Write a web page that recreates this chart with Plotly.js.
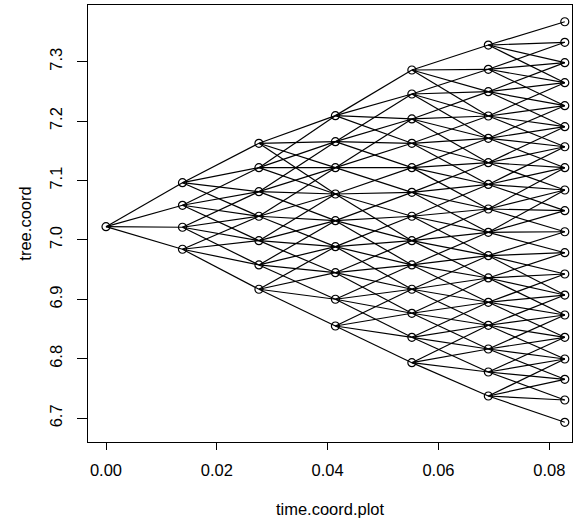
<!DOCTYPE html>
<html>
<head>
<meta charset="utf-8">
<script src="https://cdn.plot.ly/plotly-3.0.1.min.js"></script>
<style>html,body{margin:0;padding:0;background:#fff;}#plot{width:581px;height:526px;}</style>
</head>
<body>
<div id="plot"></div>
<script>
// time coordinate of each tree level
const timeCoord = [0, 0.0138, 0.0276, 0.0414, 0.0552, 0.0690, 0.0828];

// node values (tree.coord) per level
const level0 = [7.0224];
const level1 = [7.0964, 7.0584, 7.0214, 6.9844];
const level2 = [7.1627, 7.1217, 7.0813, 7.0399, 6.9989, 6.9580, 6.9171];
const level3 = [7.2092, 7.1654, 7.1217, 7.0774, 7.0325, 6.9888, 6.9450, 6.9003, 6.8553];
const level4 = [7.2860, 7.2456, 7.2036, 7.1627, 7.1217, 7.0802, 7.0399, 6.9989, 6.9580,
                6.9171, 6.8767, 6.8363, 6.7936];
const level5 = [7.3280, 7.2872, 7.2495, 7.2086, 7.1711, 7.1300, 7.0934, 7.0521, 7.0129,
                6.9736, 6.9361, 6.8952, 6.8565, 6.8166, 6.7779, 6.7375];
const level6 = [7.3672, 7.3326, 7.2983, 7.2646, 7.2259, 7.1906, 7.1569, 7.1216, 7.0841,
                7.0493, 7.0139, 6.9786, 6.9428, 6.9074, 6.8738, 6.8363, 6.7998, 6.7656,
                6.7308, 6.6933];

// index of the first of the four children of each node in the next level
const childStart0 = [0];
const childStart1 = [0, 1, 2, 3];
const childStart2 = [0, 0, 1, 2, 3, 4, 5];
const childStart3 = [0, 1, 2, 4, 5, 6, 7, 8, 9];
const childStart4 = [0, 1, 2, 3, 4, 5, 6, 7, 8, 9, 10, 11, 12];
const childStart5 = [0, 1, 2, 3, 4, 5, 6, 7, 8, 10, 11, 12, 13, 14, 15, 16];
const branchCount = 4;

const levels = [level0, level1, level2, level3, level4, level5, level6];
const childStarts = [childStart0, childStart1, childStart2, childStart3, childStart4, childStart5];

const lx = [], ly = [];
for (let k = 0; k < childStarts.length; k++) {
  const cur = levels[k], nxt = levels[k + 1], st = childStarts[k];
  for (let i = 0; i < cur.length; i++) {
    for (let c = 0; c < branchCount; c++) {
      lx.push(timeCoord[k], timeCoord[k + 1], null);
      ly.push(cur[i], nxt[st[i] + c], null);
    }
  }
}
const px = [], py = [];
levels.forEach((lv, k) => lv.forEach(v => { px.push(timeCoord[k]); py.push(v); }));

const font = {family: 'Liberation Sans, Arial, sans-serif', size: 16.5, color: '#000'};

const data = [
  {x: lx, y: ly, type: 'scatter', mode: 'lines', line: {color: '#000', width: 1.2},
   hoverinfo: 'skip', showlegend: false, connectgaps: false},
  {x: px, y: py, type: 'scatter', mode: 'markers', showlegend: false,
   marker: {symbol: 'circle-open', size: 8, color: '#000', line: {color: '#000', width: 1.2}}}
];

const layout = {
  width: 581, height: 526,
  margin: {l: 88, r: 9, t: 5, b: 84},
  paper_bgcolor: '#fff', plot_bgcolor: '#fff',
  font: font,
  showlegend: false,
  xaxis: {
    range: [-0.003249, 0.084101],
    tickvals: [0, 0.02, 0.04, 0.06, 0.08],
    ticktext: ['0.00', '0.02', '0.04', '0.06', '0.08'],
    ticks: 'outside', ticklen: 7, tickwidth: 1, tickcolor: '#000',
    ticklabelstandoff: 6,
    showgrid: false, zeroline: false,
    showline: true, linecolor: '#000', linewidth: 1, mirror: true,
    tickfont: font,
    title: {text: 'time.coord.plot', font: font, standoff: 25}
  },
  yaxis: {
    range: [6.66014, 7.39534],
    tickvals: [6.7, 6.8, 6.9, 7.0, 7.1, 7.2, 7.3],
    ticktext: ['6.7', '6.8', '6.9', '7.0', '7.1', '7.2', '7.3'],
    tickangle: -90,
    ticks: 'outside', ticklen: 10, tickwidth: 1, tickcolor: '#000',
    ticklabelstandoff: 8,
    showgrid: false, zeroline: false,
    showline: true, linecolor: '#000', linewidth: 1, mirror: true,
    tickfont: font,
    title: {text: 'tree.coord', font: font, standoff: 11}
  }
};

Plotly.newPlot('plot', data, layout, {displayModeBar: false, staticPlot: true});
</script>
</body>
</html>
